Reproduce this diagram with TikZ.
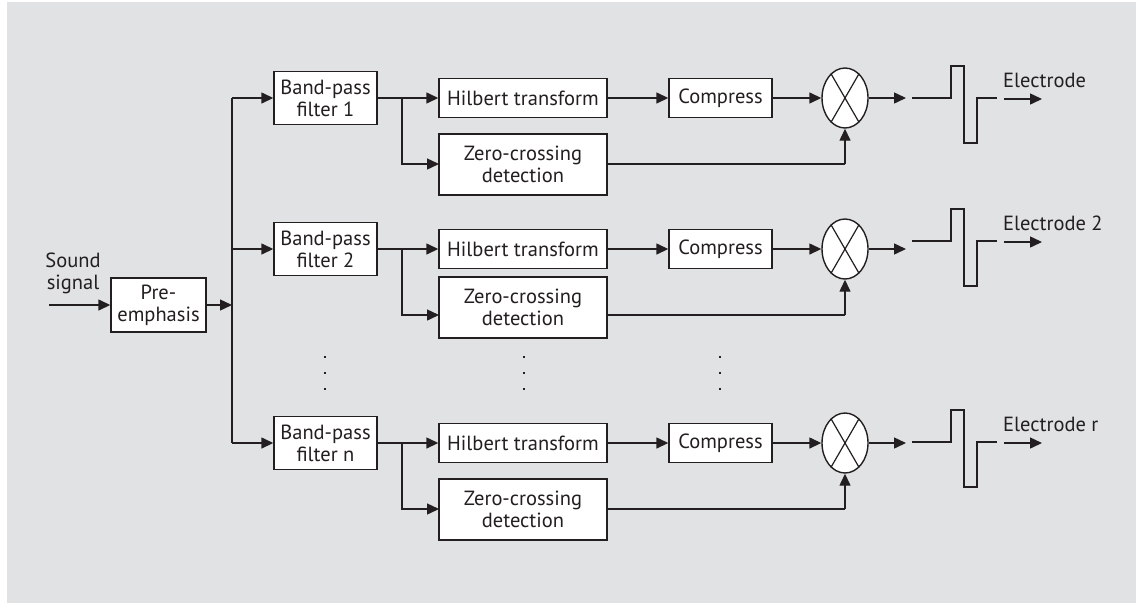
\documentclass[tikz,border=0pt]{standalone}
\usepackage{fontspec}
\setmainfont{PT Sans}
\usetikzlibrary{arrows.meta,shapes.geometric,calc}
\definecolor{bg}{HTML}{E1E2E4}
\definecolor{ink}{HTML}{231F20}
\begin{document}
\begin{tikzpicture}[x=1pt,y=-1pt,
  every node/.style={font=\fontsize{20.5}{22}\selectfont, text=ink},
  box/.style={draw=ink, line width=1.4pt, fill=white, inner sep=0pt, align=center},
  fbox/.style={box, minimum width=103pt, minimum height=53pt},
  hbox/.style={box, minimum width=168pt, minimum height=39pt},
  zbox/.style={box, minimum width=168pt, minimum height=61pt},
  cbox/.style={box, minimum width=103pt, minimum height=39pt},
  mult/.style={draw=ink, line width=1.4pt, fill=white, ellipse, minimum width=46pt, minimum height=60pt, inner sep=0pt},
  conn/.style={draw=ink, line width=1.4pt},
  arr/.style={conn, -{Triangle[length=12pt,width=11pt]}},
  lbl/.style={inner sep=0pt, align=center}
]
\useasboundingbox (0,0) rectangle (1147,603);
\fill[bg] (7,2) rectangle (1136,603);

% input
\node[lbl] (snd) at (73,273) {Sound\\signal};
\node[box, minimum width=95pt, minimum height=54pt] (pre) at (158.5,305) {Pre-\\emphasis};
\coordinate (sin) at (49,305);
\draw[arr] (sin) -- (pre.west);
\coordinate (bus1) at (232,98);
\coordinate (busm) at (232,305);
\coordinate (bus3) at (232,443);
\draw[arr] (pre.east) -- (busm);
\draw[conn] (bus1) -- (bus3);

% rows: row y, zc line y, zc box y, pulse base, name, label, filter number
\foreach \r/\z/\zb/\p/\n/\l/\k in {98/164/164.5/98/a/Electrode/1, 249/315/307.5/241/b/Electrode 2/2, 443/509/509.5/442/c/Electrode r/n}{
  \coordinate (bus\n) at (232,\r);
  \node[fbox] (f\n) at (325.5,\r) {Band-pass\\filter \k};
  \draw[arr] (bus\n) -- (f\n.west);
  \node[hbox] (h\n) at (523,\r) {Hilbert transform};
  \node[zbox] (z\n) at (523,\zb) {Zero-crossing\\detection};
  \node[cbox] (c\n) at (720.5,\r) {Compress};
  \node[mult] (m\n) at (845,\r) {};
  \draw[ink, line width=1.2pt] (m\n.120) -- (m\n.300) (m\n.60) -- (m\n.240);
  \coordinate (br\n) at (402,\r);
  \coordinate (bz\n) at (402,\z);
  \coordinate (zt\n) at (439,\z);
  \coordinate (ze\n) at (845,\z);
  \draw[arr] (f\n.east) -- (h\n.west);
  \draw[arr] (br\n) -- (bz\n) -- (zt\n);
  \draw[arr] (h\n.east) -- (c\n.west);
  \draw[arr] (c\n.east) -- (m\n.west);
  \draw[conn] (607,\z) -- (ze\n);
  \draw[arr] (ze\n) -- (m\n.south);
  \coordinate (mo\n) at (906,\r);
  \draw[arr] (m\n.east) -- (mo\n);
  \draw[conn] (912,\p) -- (951,\p) -- (951,\p-32) -- (964,\p-32) -- (964,\p+45) -- (977,\p+45) -- (977,\p) -- (997,\p);
  \coordinate (ea\n) at (1004,\p+1);
  \coordinate (eb\n) at (1042,\p+1);
  \draw[arr] (ea\n) -- (eb\n);
  \node[lbl, anchor=west] (e\n) at (1003,\p-18) {\l};
}

% dots
\foreach \x in {325,524,720}{
  \foreach \y in {357,373,389}{
    \fill[ink] (\x-1.3,\y-1.3) rectangle (\x+1.3,\y+1.3);
  }
}
\end{tikzpicture}
\end{document}
